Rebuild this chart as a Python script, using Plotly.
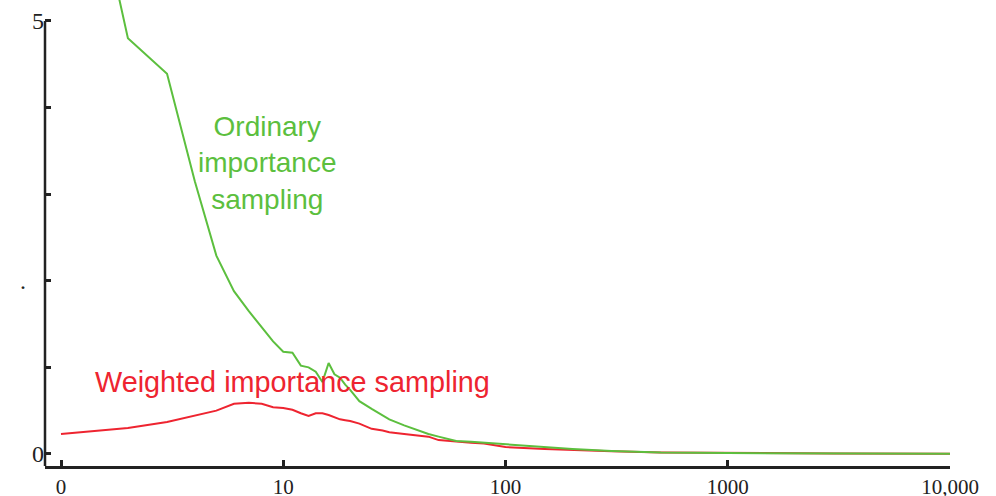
import plotly.graph_objects as go

# Episodes (log scale)
episodes = [1, 2, 3, 4, 5, 6, 7, 8, 9, 10, 11, 12, 13, 14, 15, 16, 17, 18, 19, 20,
            22, 25, 28, 30, 35, 40, 45, 50, 60, 70, 80, 100, 150, 200, 300, 500,
            1000, 3000, 10000]

ordinary_is = [8.3, 4.80, 4.39, 3.15, 2.29, 1.88, 1.65, 1.47, 1.30, 1.18, 1.17, 1.02,
               1.00, 0.95, 0.83, 1.05, 0.92, 0.88, 0.80, 0.74,
               0.61, 0.52, 0.44, 0.40, 0.33, 0.28, 0.23, 0.20, 0.15, 0.14, 0.13, 0.11,
               0.075, 0.058, 0.035, 0.017, 0.010, 0.005, 0.003]

weighted_is = [0.23, 0.30, 0.37, 0.44, 0.50, 0.58, 0.59, 0.58, 0.54, 0.53, 0.51, 0.47,
               0.44, 0.47, 0.47, 0.45, 0.42, 0.40, 0.39, 0.38,
               0.35, 0.29, 0.27, 0.25, 0.23, 0.21, 0.20, 0.16, 0.14, 0.13, 0.12, 0.08,
               0.058, 0.046, 0.030, 0.017, 0.010, 0.005, 0.003]

x_tickvals = [1, 10, 100, 1000, 10000]
x_ticktext = ["0", "10", "100", "1000", "10,000"]
y_tickvals = [0, 1, 2, 3, 4, 5]
y_ticktext = ["0", "", ".\u00a0\u00a0\u00a0", "", "", "5"]

GREEN = "#5cbf3e"
RED = "#ee2430"
AXIS = "#222222"

fig = go.Figure()
fig.add_trace(go.Scatter(x=episodes, y=weighted_is, mode="lines",
                         line=dict(color=RED, width=2), showlegend=False))
fig.add_trace(go.Scatter(x=episodes, y=ordinary_is, mode="lines",
                         line=dict(color=GREEN, width=2), showlegend=False))

y_bottom = -0.139
y_top = 5.242

fig.update_layout(
    width=996, height=496,
    margin=dict(l=45, r=46, t=0, b=30),
    paper_bgcolor="white", plot_bgcolor="white",
    xaxis=dict(type="log", range=[-0.072, 4.0], automargin=False,
               tickvals=x_tickvals, ticktext=x_ticktext,
               ticks="inside", ticklen=6, tickwidth=2.5, tickcolor=AXIS,
               showline=True, linecolor=AXIS, linewidth=2.5,
               showgrid=False, zeroline=False, ticklabelstandoff=0,
               tickfont=dict(family="Liberation Serif", size=21, color="#222")),
    yaxis=dict(range=[y_bottom, y_top], automargin=False,
               tickvals=y_tickvals, ticktext=y_ticktext,
               ticks="inside", ticklen=6, tickwidth=2.5, tickcolor=AXIS,
               showline=False, showgrid=False, zeroline=False,
               tickfont=dict(family="Liberation Serif", size=24, color="#222")),
    shapes=[dict(type="line", xref="paper", yref="y", x0=0, x1=0,
                 y0=y_bottom, y1=5, line=dict(color=AXIS, width=2.5))],
    annotations=[
        dict(text="Ordinary<br>importance<br>sampling", xref="paper", yref="paper",
             x=0.2464, y=0.650, xanchor="center", yanchor="middle", showarrow=False,
             font=dict(family="Liberation Sans", size=28, color=GREEN)),
        dict(text="Weighted importance sampling", xref="paper", yref="paper",
             x=0.0533, y=0.180, xanchor="left", yanchor="middle", showarrow=False,
             font=dict(family="Liberation Sans", size=28.8, color=RED)),
    ],
)

fig.write_html("out.html", config={"displayModeBar": False},
               post_script="document.body.style.margin='0';document.body.style.overflow='hidden';")
